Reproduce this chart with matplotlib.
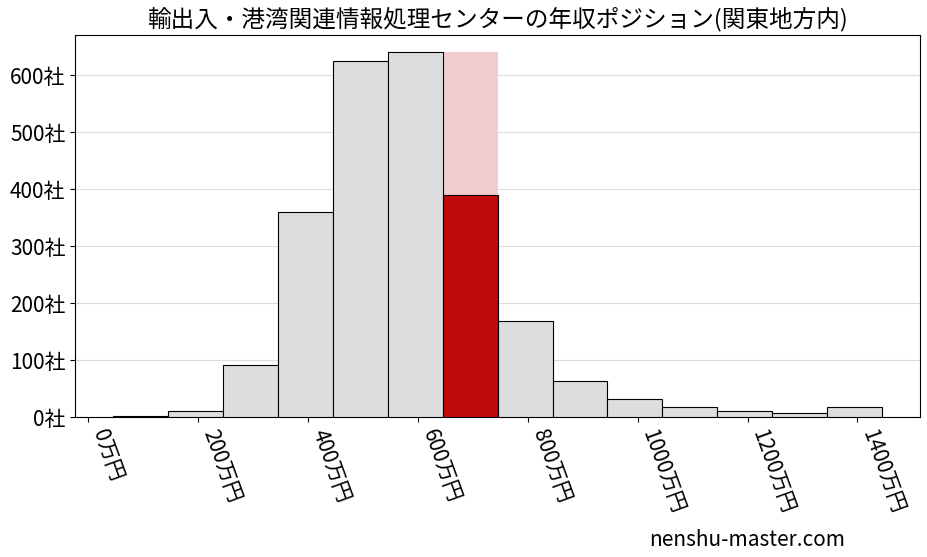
import matplotlib.pyplot as plt

plt.rcParams['font.family'] = ['Noto Sans CJK JP', 'DejaVu Sans']

centers = [95, 195, 295, 395, 495, 595, 695, 795, 895, 995, 1095, 1195, 1295, 1395]
counts = [2, 10, 92, 360, 625, 640, 390, 168, 63, 32, 17, 10, 8, 17]
highlight_idx = 6
highlight_bg = 640
ticks = [0, 200, 400, 600, 800, 1000, 1200, 1400]
yticks = [0, 100, 200, 300, 400, 500, 600]

fig = plt.figure(figsize=(9.27, 5.57), dpi=100)
ax = fig.add_axes([0.081, 0.251, 0.911, 0.686])

ax.bar(centers[highlight_idx], highlight_bg, width=100, color="#f0cccc", zorder=2)
colors = ["#dcdddf"] * len(counts)
colors[highlight_idx] = "#c00a0a"
ax.bar(centers, counts, width=100, color=colors, edgecolor="black", linewidth=0.8, zorder=3)

ax.set_xlim(-24, 1513)
ax.set_ylim(0, 670)
ax.set_xticks(ticks)
ax.set_xticklabels([f"{t}万円" for t in ticks], rotation=-70, ha="left", fontsize=15)
ax.set_yticks(yticks)
ax.set_yticklabels([f"{t}社" for t in yticks], fontsize=15)
ax.grid(axis="y", color="#dddddd", zorder=0)
ax.set_axisbelow(True)
ax.set_title("輸出入・港湾関連情報処理センターの年収ポジション(関東地方内)", fontsize=17)
fig.text(0.70, 0.02, "nenshu-master.com", fontsize=15)

fig.savefig("out.png")
